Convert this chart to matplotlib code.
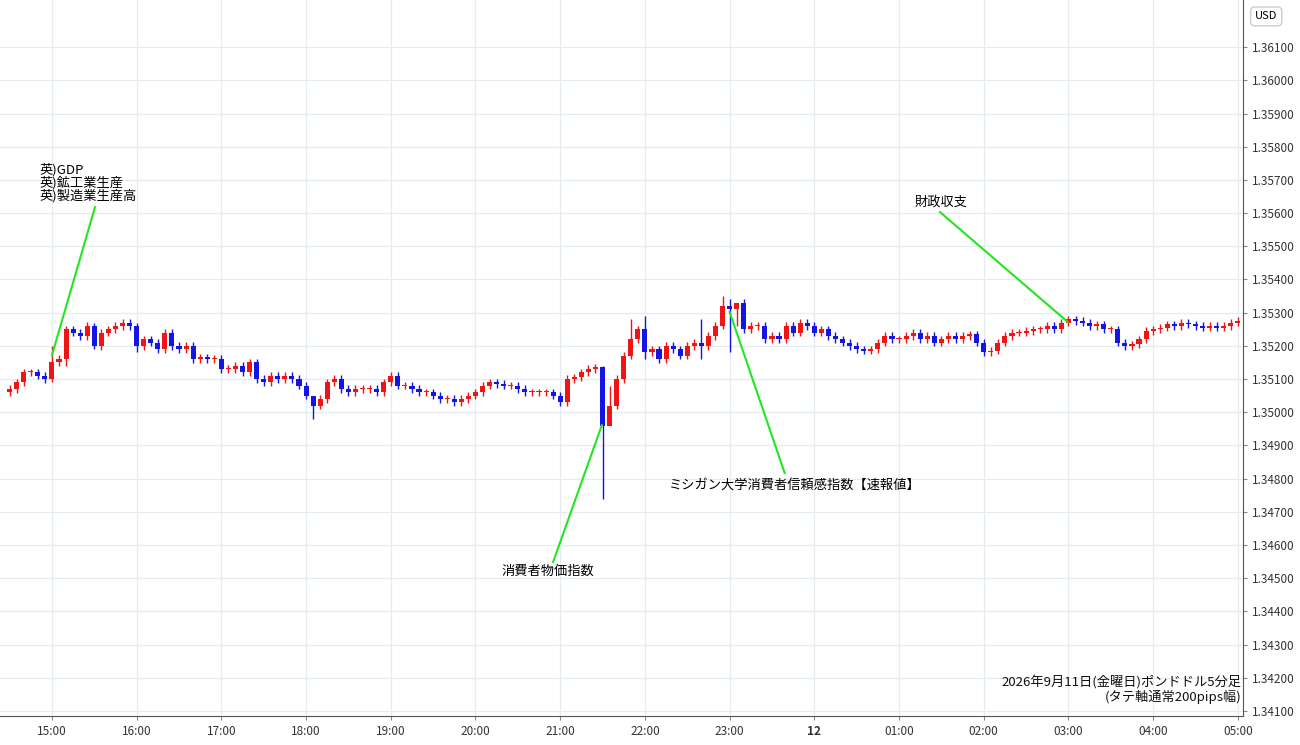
import matplotlib
matplotlib.use("Agg")
import matplotlib.pyplot as plt
from matplotlib.patches import Rectangle

plt.rcParams['font.family'] = ['Noto Sans CJK JP', 'DejaVu Sans']

# closes in pips above 1.3500, one 5-minute candle each from 14:30 to 05:00
first_open = 6
closes = [7, 9, 12, 12, 11, 10, 15, 16, 25, 24, 23, 26,
          20, 24, 25, 26, 27, 26, 20, 22, 21, 19, 24, 20,
          19, 20, 16, 16.5, 16, 16, 13, 13, 14, 12, 15, 10,
          9, 11, 10, 11, 10, 8, 5, 2, 4, 9, 10, 7,
          6, 7, 7, 7, 6, 9, 11, 8, 8, 7, 6, 6,
          5, 4, 4, 3, 4, 5, 6, 8, 9, 8.5, 8, 8,
          7, 6, 6, 6, 6, 5, 3, 10, 10.5, 12, 13, 13.5,
          -4, 2, 10, 17, 22, 25, 18, 19, 16, 20, 19, 17,
          20, 21, 20, 23, 26, 32, 31, 33, 25, 26, 26, 22,
          23, 22, 26, 24, 27, 26, 24, 25, 23, 22, 21, 20,
          19, 18.5, 19, 21, 23, 22, 22, 23, 24, 22, 23, 21,
          22, 23, 22, 23, 23.5, 21, 18, 18.5, 21, 23, 24, 24,
          24.5, 25, 25, 26, 25, 27, 28, 27.5, 27, 26, 26.5, 25,
          25, 21, 20, 20.5, 22, 24.5, 25, 25.5, 26.5, 26, 27, 26.5,
          26, 25.5, 26, 25.5, 26, 27, 27.5]
# notable wick extremes (index: (high, low)) in pips
wick_override = {6: (20, 9), 8: (26, 14), 12: (27, 19), 18: (27, 18), 43: (5, -2),
                 55: (12, 7), 84: (14, -26), 85: (8, 0), 88: (28, 16), 90: (29, 16),
                 98: (28, 16), 101: (35, 25), 102: (34, 18), 103: (33, 26)}
default_wick = 1.1

time_labels = ["15:00", "16:00", "17:00", "18:00", "19:00", "20:00", "21:00", "22:00",
               "23:00", "12", "01:00", "02:00", "03:00", "04:00", "05:00"]
ytick_vals = [1.341 + 0.001 * k for k in range(21)]

opens = [first_open] + closes[:-1]
fig = plt.figure(figsize=(13, 7.45), dpi=100)
ax = fig.add_axes([0, 0.039, 0.956, 0.961])
UP, DN = '#f01414', '#1414e6'
w = 0.72
for i, (o, c) in enumerate(zip(opens, closes)):
    hi, lo = wick_override.get(i, (max(o, c) + default_wick, min(o, c) - default_wick))
    col = UP if c >= o else DN
    P = lambda v: 1.35 + v / 10000
    ax.vlines(i, P(lo), P(hi), color=col, lw=1, zorder=3)
    bot, top = min(o, c), max(o, c)
    if top - bot < 0.3:
        top = bot + 0.3
    ax.add_patch(Rectangle((i - w / 2, P(bot)), w, P(top) - P(bot), color=col, zorder=4, lw=0))

ax.set_xlim(-1.36, 174.7)
ax.set_ylim(1.34085, 1.36242)
xt = [6 + 12 * k for k in range(len(time_labels))]
ax.set_xticks(xt)
ax.set_xticklabels(time_labels, fontsize=8.5, color='#333333')
for lab in ax.get_xticklabels():
    if lab.get_text() == "12":
        lab.set_fontweight('bold')
ax.set_yticks(ytick_vals)
ax.set_yticklabels([f"{v:.5f}" for v in ytick_vals], fontsize=8.5, color='#333333')
ax.yaxis.tick_right()
ax.tick_params(length=3, color='#888888')
ax.grid(True, color='#e4ecf0', lw=0.9)
for s in ['top', 'left']:
    ax.spines[s].set_visible(False)
ax.spines['right'].set_color('#555555')
ax.spines['bottom'].set_color('#555555')

green = '#22e622'
ax.plot([12.1, 6.0], [1.35618, 1.35172], color=green, lw=1.5, zorder=5)
ax.text(4.3, 1.35751, "英)GDP\n英)鉱工業生産\n英)製造業生産高", fontsize=9.5, va='top', ha='left', linespacing=0.95)
ax.plot([77.0, 83.9], [1.34549, 1.34961], color=green, lw=1.5, zorder=5)
ax.text(76.3, 1.34522, "消費者物価指数", fontsize=9.5, ha='center', va='center')
ax.plot([109.8, 102.0], [1.34817, 1.35302], color=green, lw=1.5, zorder=5)
ax.text(111.3, 1.34781, "ミシガン大学消費者信頼感指数【速報値】", fontsize=9.5, ha='center', va='center')
ax.plot([131.8, 149.9], [1.35603, 1.35272], color=green, lw=1.5, zorder=5)
ax.text(131.9, 1.35633, "財政収支", fontsize=9.5, ha='center', va='center')

ax.text(0.999, 0.017, "2026年9月11日(金曜日)ポンドドル5分足\n(タテ軸通常200pips幅)", transform=ax.transAxes,
        ha='right', va='bottom', fontsize=9.5, linespacing=1.0, color='#111111')
fig.text(0.974, 0.978, "USD", fontsize=8, ha='center', va='center',
         bbox=dict(boxstyle='round,pad=0.4', fc='white', ec='#cccccc'))
fig.savefig("out.png", dpi=100, facecolor='white')
